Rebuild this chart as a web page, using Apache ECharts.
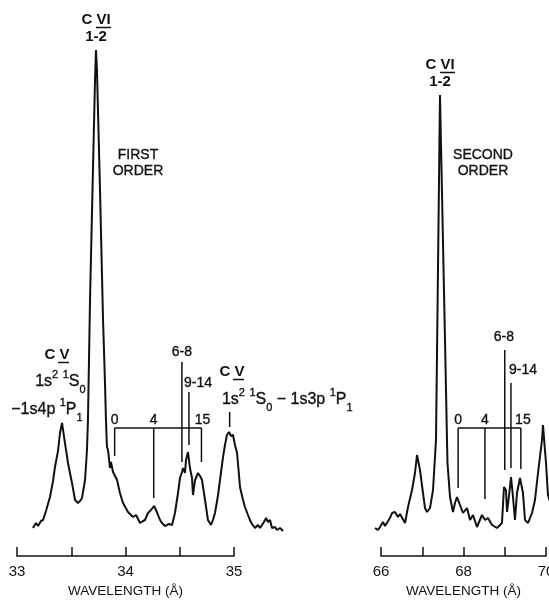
<!DOCTYPE html>
<html><head><meta charset="utf-8">
<script src="https://cdn.jsdelivr.net/npm/echarts/dist/echarts.min.js"></script>
<style>html,body{margin:0;padding:0;background:#fff}#c{width:549px;height:601px}</style>
</head><body><div id="c"></div>
<script>
// ---- data (wavelength in Å, intensity in arbitrary units) ----
const firstWavelength = [33.147,33.175,33.194,33.221,33.240,33.267,33.304,33.332,33.350,33.378,33.396,33.415,33.442,33.470,33.488,33.507,33.535,33.562,33.581,33.599,33.627,33.645,33.654,33.673,33.700,33.719,33.728,33.737,33.765,33.793,33.811,33.820,33.829,33.839,33.857,33.866,33.885,33.922,33.949,33.977,33.995,34.023,34.041,34.069,34.097,34.134,34.161,34.180,34.207,34.235,34.263,34.281,34.300,34.318,34.336,34.364,34.382,34.401,34.429,34.456,34.484,34.502,34.521,34.530,34.548,34.558,34.576,34.594,34.613,34.622,34.641,34.668,34.687,34.705,34.733,34.760,34.788,34.806,34.825,34.853,34.871,34.899,34.917,34.935,34.954,34.972,34.991,35.009,35.028,35.046,35.055,35.083,35.101,35.129,35.147,35.166,35.194,35.221,35.240,35.258,35.276,35.295,35.313,35.332,35.350,35.378,35.396,35.424,35.452];
const firstIntensity  = [28,33,30,35,36,45,59,75,89,105,123,133,113,93,83,73,56,53,55,58,76,106,136,256,386,476,506,486,366,236,173,136,109,106,88,94,84,76,63,53,51,44,46,39,41,33,35,36,43,46,50,46,41,36,33,30,28,32,31,43,63,78,84,88,83,96,104,88,78,61,76,83,80,76,56,36,31,36,43,61,76,99,111,121,124,120,121,111,103,81,69,56,49,41,36,32,28,31,28,29,34,38,34,36,28,29,26,28,25];
const secondWavelength = [65.855,65.927,65.976,66.048,66.097,66.145,66.218,66.267,66.339,66.412,66.461,66.509,66.582,66.655,66.752,66.824,66.873,66.945,67.018,67.067,67.115,67.188,67.261,67.333,67.358,67.382,67.406,67.430,67.467,67.503,67.552,67.600,67.612,67.673,67.745,67.794,67.842,67.915,67.988,68.085,68.158,68.230,68.327,68.448,68.521,68.594,68.691,68.812,68.933,68.982,69.030,69.055,69.103,69.152,69.200,69.248,69.297,69.370,69.442,69.491,69.564,69.661,69.733,69.806,69.903,69.927,70.000,70.048,70.121];
const secondIntensity  = [28,26,29,34,30,31,38,43,44,39,42,43,33,49,66,83,101,86,63,48,44,48,66,116,202,288,375,461,387,313,215,116,93,59,44,53,59,51,43,48,36,41,29,41,36,38,31,28,33,69,66,44,60,79,59,36,63,78,63,36,33,43,56,83,116,131,93,61,51];
const firstTicks  = [33, 34, 35];
const secondTicks = [66, 68, 70];
const axisTitle = 'WAVELENGTH (Å)';

const chart = echarts.init(document.getElementById('c'), null, {renderer:'canvas'});
const FONT = '"Liberation Sans", Arial, sans-serif';
const black = '#111';

// scale: first order 108.5 px/Å, second order 41.25 px/Å
function visAxis(grid, min, max, interval, labels){
  return {
    type:'value', gridIndex:grid, min:min, max:max, interval:interval,
    axisLine:{show:true, lineStyle:{color:black, width:1.5}},
    axisTick:{show:true, inside:true, length:9, lineStyle:{color:black, width:1.5}},
    splitLine:{show:false},
    axisLabel:{show:true, color:black, fontSize:15, fontFamily:FONT, margin:8, hideOverlap:false,
      showMinLabel:true, showMaxLabel:true,
      formatter:function(v){ return labels.indexOf(Math.round(v*1000)/1000) >= 0 ? String(v) : ''; }},
    name:axisTitle, nameLocation:'middle', nameGap:28,
    nameTextStyle:{color:black, fontSize:13.5, fontFamily:FONT}
  };
}
function dataAxis(grid, min, max){
  return {type:'value', gridIndex:grid, min:min, max:max, show:false, splitLine:{show:false}};
}
function yAxisDef(grid){
  return {type:'value', gridIndex:grid, min:0, max:516, show:false, splitLine:{show:false}};
}
function pairs(a,b){ return a.map((v,i)=>[v,b[i]]); }
const G = {top:40, bottom:45, containLabel:false, outerBoundsMode:'none'};

chart.setOption({
  animation:false,
  backgroundColor:'#fff',
  grid:[
    Object.assign({left:17, width:217}, G),          // visible axis, first order 33–35
    Object.assign({left:381, width:165}, G),         // visible axis, second order 66–70
    Object.assign({left:17, width:271.25}, G),       // data, first order 33–35.5
    Object.assign({left:372.75, width:181.5}, G)     // data, second order 65.8–70.2
  ],
  xAxis:[ visAxis(0,33,35,0.5,firstTicks), visAxis(1,66,70,1,secondTicks),
          dataAxis(2,33,35.5), dataAxis(3,65.8,70.2) ],
  yAxis:[ yAxisDef(0), yAxisDef(1), yAxisDef(2), yAxisDef(3) ],
  series:[
    {type:'line', xAxisIndex:2, yAxisIndex:2, data:pairs(firstWavelength,firstIntensity), showSymbol:false,
      lineStyle:{color:black, width:2}},
    {type:'line', xAxisIndex:3, yAxisIndex:3, data:pairs(secondWavelength,secondIntensity), showSymbol:false,
      lineStyle:{color:black, width:2}}
  ]
});

// ---- annotations (anchored in data coordinates) ----
function px(g, wl, I){ const k = g + 2; return chart.convertToPixel({xAxisIndex:k, yAxisIndex:k}, [wl, I]); }
const els = [];
function seg(a, b){
  els.push({type:'line', shape:{x1:a[0], y1:a[1], x2:b[0], y2:b[1]}, style:{stroke:black, lineWidth:1.5}});
}
function vline(g, wl, i1, i2){ seg(px(g, wl, i1), px(g, wl, i2)); }
function hline(g, wl1, wl2, I){ seg(px(g, wl1, I), px(g, wl2, I)); }
const TB = {stroke:black, lineWidth:0.35};
const rich = {
  n:Object.assign({fontSize:14, fontFamily:FONT, fill:black, lineHeight:24, verticalAlign:'middle'}, TB),
  m:Object.assign({fontSize:16, fontFamily:FONT, fill:black, lineHeight:26, verticalAlign:'middle'}, TB),
  b:{fontSize:15, fontWeight:'bold', fontFamily:FONT, fill:black, lineHeight:24, verticalAlign:'middle'},
  sup:Object.assign({fontSize:11, fontFamily:FONT, fill:black, verticalAlign:'top'}, TB),
  sub:Object.assign({fontSize:11, fontFamily:FONT, fill:black, verticalAlign:'bottom'}, TB)
};
function text(g, wl, I, str, align){
  const p = px(g, wl, I);
  els.push({type:'text', x:p[0], y:p[1], style:{text:str, rich:rich, align:align||'center', verticalAlign:'middle',
    textAlign:align||'center', textVerticalAlign:'middle', fill:black, font:'14px '+FONT}});
}
function roman(g, wl, I, num){
  const p = px(g, wl, I);
  els.push({type:'text', x:p[0], y:p[1], style:{text:'{b|C ' + num + '}', rich:rich, align:'center', verticalAlign:'middle',
    textAlign:'center', textVerticalAlign:'middle', fill:black}});
  const w = num.length === 2 ? 15 : 11;
  const x0 = p[0] + (num.length === 2 ? 0 : 1);
  els.push({type:'line', shape:{x1:x0, y1:p[1]+7.5, x2:x0+w, y2:p[1]+7.5}, style:{stroke:black, lineWidth:1.5}});
}

// first order
roman(0, 33.728, 536, 'VI');
text(0, 33.728, 519, '{b|1-2}');
text(0, 34.115, 401, '{n|FIRST}');
text(0, 34.115, 385, '{n|ORDER}');
roman(0, 33.369, 201, 'V');
text(0, 33.400, 174, '{m|1s}{sup|2}{m| }{sup|1}{m|S}{sub|0}');
text(0, 33.276, 146, '{m|\u22121s4p }{sup|1}{m|P}{sub|1}');
text(0, 34.52, 204, '{n|6-8}');
text(0, 34.668, 173, '{n|9-14}');
text(0, 33.90, 136, '{n|0}');
text(0, 34.26, 136, '{n|4}');
text(0, 34.71, 136, '{n|15}');
roman(0, 34.982, 184, 'V');
text(0, 34.889, 156, '{m|1s}{sup|2}{m| }{sup|1}{m|S}{sub|0}{m| \u2212 1s3p }{sup|1}{m|P}{sub|1}', 'left');
vline(0, 34.52, 194, 94);
vline(0, 34.585, 164, 111);
hline(0, 33.90, 34.70, 128);
vline(0, 33.90, 128, 100);
vline(0, 34.26, 128, 58);
vline(0, 34.70, 128, 94);
vline(0, 34.96, 144, 129);

// second order
roman(1, 67.43, 491, 'VI');
text(1, 67.43, 474, '{b|1-2}');
text(1, 68.473, 401, '{n|SECOND}');
text(1, 68.473, 385, '{n|ORDER}');
text(1, 68.98, 219, '{n|6-8}');
text(1, 69.442, 186, '{n|9-14}');
text(1, 67.87, 136, '{n|0}');
text(1, 68.52, 136, '{n|4}');
text(1, 69.44, 136, '{n|15}');
vline(1, 69.0, 206, 86);
vline(1, 69.15, 173, 88);
hline(1, 67.87, 69.39, 128);
vline(1, 67.87, 128, 68);
vline(1, 68.52, 128, 57);
vline(1, 69.39, 128, 87);

chart.setOption({graphic:{elements:els}});
</script>
</body></html>
